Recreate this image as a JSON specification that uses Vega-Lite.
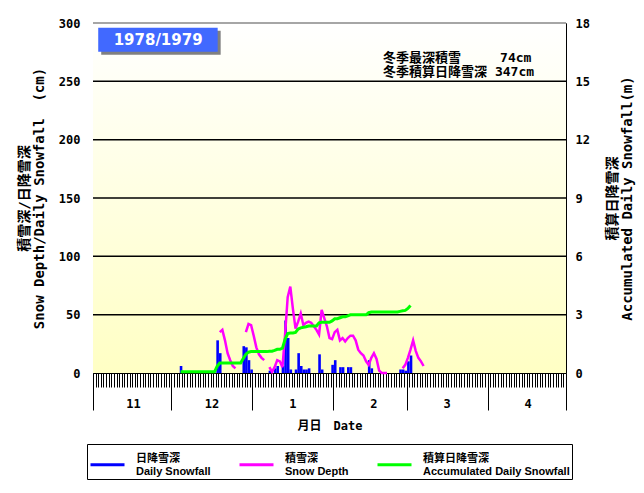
{
  "$schema": "https://vega.github.io/schema/vega-lite/v6.json",
  "width": 473,
  "height": 350,
  "autosize": {"type": "none"},
  "padding": {"left": 93, "top": 23, "right": 78, "bottom": 120},
  "background": "white",
  "config": {
    "view": {"stroke": "#888888", "strokeWidth": 1},
    "axis": {
      "zindex": 1,
      "labelColor": "black",
      "titleColor": "black",
      "domainColor": "black",
      "tickColor": "black",
      "labelFont": "DejaVu Sans Mono",
      "labelFontSize": 12,
      "labelFontWeight": "bold",
      "titleFont": "DejaVu Sans Mono, Noto Sans CJK JP",
      "titleFontSize": 14,
      "titleFontWeight": "bold"
    }
  },
  "datasets": {
    "gridlines": [
      {"cm": 50}, {"cm": 100}, {"cm": 150}, {"cm": 200}, {"cm": 250}
    ],
    "snowfall": [
      {"date": "1978-12-04", "cm": 6},
      {"date": "1978-12-18", "cm": 28},
      {"date": "1978-12-19", "cm": 17},
      {"date": "1978-12-28", "cm": 23},
      {"date": "1978-12-29", "cm": 22},
      {"date": "1978-12-30", "cm": 11},
      {"date": "1978-12-31", "cm": 3},
      {"date": "1979-01-07", "cm": 2},
      {"date": "1979-01-09", "cm": 4},
      {"date": "1979-01-10", "cm": 6},
      {"date": "1979-01-12", "cm": 6},
      {"date": "1979-01-13", "cm": 45},
      {"date": "1979-01-14", "cm": 30},
      {"date": "1979-01-15", "cm": 3},
      {"date": "1979-01-17", "cm": 3},
      {"date": "1979-01-18", "cm": 17},
      {"date": "1979-01-19", "cm": 6},
      {"date": "1979-01-20", "cm": 3},
      {"date": "1979-01-21", "cm": 3},
      {"date": "1979-01-22", "cm": 4},
      {"date": "1979-01-26", "cm": 16},
      {"date": "1979-01-27", "cm": 3},
      {"date": "1979-01-31", "cm": 7},
      {"date": "1979-02-01", "cm": 11},
      {"date": "1979-02-03", "cm": 5},
      {"date": "1979-02-04", "cm": 5},
      {"date": "1979-02-06", "cm": 5},
      {"date": "1979-02-07", "cm": 5},
      {"date": "1979-02-14", "cm": 11},
      {"date": "1979-02-15", "cm": 4},
      {"date": "1979-02-26", "cm": 3},
      {"date": "1979-02-27", "cm": 3},
      {"date": "1979-02-28", "cm": 2},
      {"date": "1979-03-01", "cm": 10},
      {"date": "1979-03-02", "cm": 15}
    ],
    "depth": [
      {"date": "1978-12-19", "cm": 35, "seg": "a"},
      {"date": "1978-12-20", "cm": 37, "seg": "a"},
      {"date": "1978-12-21", "cm": 28, "seg": "a"},
      {"date": "1978-12-22", "cm": 17, "seg": "a"},
      {"date": "1978-12-23", "cm": 11, "seg": "a"},
      {"date": "1978-12-24", "cm": 6, "seg": "a"},
      {"date": "1978-12-25", "cm": 4, "seg": "a"},
      {"date": "1978-12-29", "cm": 35, "seg": "b"},
      {"date": "1978-12-30", "cm": 42, "seg": "b"},
      {"date": "1978-12-31", "cm": 41, "seg": "b"},
      {"date": "1979-01-01", "cm": 32, "seg": "b"},
      {"date": "1979-01-02", "cm": 22, "seg": "b"},
      {"date": "1979-01-03", "cm": 16, "seg": "b"},
      {"date": "1979-01-04", "cm": 13, "seg": "b"},
      {"date": "1979-01-05", "cm": 11, "seg": "b"},
      {"date": "1979-01-07", "cm": 5, "seg": "c"},
      {"date": "1979-01-08", "cm": 1, "seg": "c"},
      {"date": "1979-01-09", "cm": 5, "seg": "c"},
      {"date": "1979-01-10", "cm": 11, "seg": "c"},
      {"date": "1979-01-11", "cm": 10, "seg": "c"},
      {"date": "1979-01-12", "cm": 5, "seg": "c"},
      {"date": "1979-01-13", "cm": 33, "seg": "c"},
      {"date": "1979-01-14", "cm": 65, "seg": "c"},
      {"date": "1979-01-15", "cm": 74, "seg": "c"},
      {"date": "1979-01-16", "cm": 55, "seg": "c"},
      {"date": "1979-01-17", "cm": 38, "seg": "c"},
      {"date": "1979-01-18", "cm": 44, "seg": "c"},
      {"date": "1979-01-19", "cm": 51, "seg": "c"},
      {"date": "1979-01-20", "cm": 41, "seg": "c"},
      {"date": "1979-01-21", "cm": 43, "seg": "c"},
      {"date": "1979-01-22", "cm": 44, "seg": "c"},
      {"date": "1979-01-23", "cm": 43, "seg": "c"},
      {"date": "1979-01-24", "cm": 40, "seg": "c"},
      {"date": "1979-01-25", "cm": 37, "seg": "c"},
      {"date": "1979-01-26", "cm": 33, "seg": "c"},
      {"date": "1979-01-27", "cm": 54, "seg": "c"},
      {"date": "1979-01-28", "cm": 47, "seg": "c"},
      {"date": "1979-01-29", "cm": 40, "seg": "c"},
      {"date": "1979-01-30", "cm": 30, "seg": "c"},
      {"date": "1979-01-31", "cm": 29, "seg": "c"},
      {"date": "1979-02-01", "cm": 35, "seg": "c"},
      {"date": "1979-02-02", "cm": 37, "seg": "c"},
      {"date": "1979-02-03", "cm": 28, "seg": "c"},
      {"date": "1979-02-04", "cm": 30, "seg": "c"},
      {"date": "1979-02-05", "cm": 27, "seg": "c"},
      {"date": "1979-02-06", "cm": 30, "seg": "c"},
      {"date": "1979-02-07", "cm": 32, "seg": "c"},
      {"date": "1979-02-08", "cm": 32, "seg": "c"},
      {"date": "1979-02-09", "cm": 28, "seg": "c"},
      {"date": "1979-02-10", "cm": 20, "seg": "c"},
      {"date": "1979-02-11", "cm": 17, "seg": "c"},
      {"date": "1979-02-12", "cm": 15, "seg": "c"},
      {"date": "1979-02-13", "cm": 10, "seg": "c"},
      {"date": "1979-02-14", "cm": 7, "seg": "c"},
      {"date": "1979-02-15", "cm": 13, "seg": "c"},
      {"date": "1979-02-16", "cm": 17, "seg": "c"},
      {"date": "1979-02-17", "cm": 12, "seg": "c"},
      {"date": "1979-02-18", "cm": 2, "seg": "c"},
      {"date": "1979-02-19", "cm": 0, "seg": "c"},
      {"date": "1979-02-20", "cm": 0, "seg": "c"},
      {"date": "1979-02-21", "cm": 0, "seg": "c"},
      {"date": "1979-02-27", "cm": 4, "seg": "d"},
      {"date": "1979-02-28", "cm": 7, "seg": "d"},
      {"date": "1979-03-01", "cm": 13, "seg": "d"},
      {"date": "1979-03-02", "cm": 20, "seg": "d"},
      {"date": "1979-03-03", "cm": 28, "seg": "d"},
      {"date": "1979-03-04", "cm": 19, "seg": "d"},
      {"date": "1979-03-05", "cm": 13, "seg": "d"},
      {"date": "1979-03-06", "cm": 10, "seg": "d"},
      {"date": "1979-03-07", "cm": 6, "seg": "d"}
    ],
    "accum": [
      {"date": "1978-12-04", "m": 0.06},
      {"date": "1978-12-17", "m": 0.06},
      {"date": "1978-12-18", "m": 0.34},
      {"date": "1978-12-19", "m": 0.51},
      {"date": "1978-12-27", "m": 0.51},
      {"date": "1978-12-28", "m": 0.74},
      {"date": "1978-12-29", "m": 0.96},
      {"date": "1978-12-30", "m": 1.07},
      {"date": "1978-12-31", "m": 1.10},
      {"date": "1979-01-06", "m": 1.10},
      {"date": "1979-01-07", "m": 1.12},
      {"date": "1979-01-08", "m": 1.12},
      {"date": "1979-01-09", "m": 1.16},
      {"date": "1979-01-10", "m": 1.22},
      {"date": "1979-01-11", "m": 1.22},
      {"date": "1979-01-12", "m": 1.28},
      {"date": "1979-01-13", "m": 1.73},
      {"date": "1979-01-14", "m": 2.03},
      {"date": "1979-01-15", "m": 2.06},
      {"date": "1979-01-16", "m": 2.06},
      {"date": "1979-01-17", "m": 2.09},
      {"date": "1979-01-18", "m": 2.26},
      {"date": "1979-01-19", "m": 2.32},
      {"date": "1979-01-20", "m": 2.35},
      {"date": "1979-01-21", "m": 2.38},
      {"date": "1979-01-22", "m": 2.42},
      {"date": "1979-01-25", "m": 2.42},
      {"date": "1979-01-26", "m": 2.58},
      {"date": "1979-01-27", "m": 2.61},
      {"date": "1979-01-30", "m": 2.61},
      {"date": "1979-01-31", "m": 2.68},
      {"date": "1979-02-01", "m": 2.79},
      {"date": "1979-02-02", "m": 2.79},
      {"date": "1979-02-03", "m": 2.84},
      {"date": "1979-02-04", "m": 2.89},
      {"date": "1979-02-05", "m": 2.89},
      {"date": "1979-02-06", "m": 2.94},
      {"date": "1979-02-07", "m": 2.99},
      {"date": "1979-02-13", "m": 2.99},
      {"date": "1979-02-14", "m": 3.10},
      {"date": "1979-02-15", "m": 3.14},
      {"date": "1979-02-25", "m": 3.14},
      {"date": "1979-02-26", "m": 3.17},
      {"date": "1979-02-27", "m": 3.20},
      {"date": "1979-02-28", "m": 3.22},
      {"date": "1979-03-01", "m": 3.32},
      {"date": "1979-03-02", "m": 3.47}
    ]
  },
  "layer": [
    {
      "layer": [
        {
          "data": {"values": [{}]},
          "mark": {
            "type": "rect",
            "color": {
              "gradient": "linear",
              "x1": 0, "y1": 0, "x2": 0, "y2": 1,
              "stops": [
                {"offset": 0, "color": "#ffffff"},
                {"offset": 1, "color": "#ffffc4"}
              ]
            }
          },
          "encoding": {
            "x": {"datum": {"year": 1978, "month": 11, "date": 1, "utc": true}, "type": "temporal"},
            "x2": {"datum": {"year": 1979, "month": 5, "date": 1, "utc": true}},
            "y": {"datum": 0, "type": "quantitative"},
            "y2": {"datum": 300}
          }
        },
        {
          "data": {"name": "gridlines"},
          "mark": {"type": "rule", "color": "black", "strokeWidth": 1.5},
          "encoding": {
            "y": {"field": "cm", "type": "quantitative"}
          }
        },
        {
          "data": {"values": [{}]},
          "mark": {"type": "rule", "color": "#888888", "strokeWidth": 1.5},
          "encoding": {
            "y": {"datum": 300, "type": "quantitative"}
          }
        },
        {
          "data": {"values": [{}]},
          "mark": {"type": "rect", "color": "#808080", "xOffset": 3, "x2Offset": 3, "yOffset": 3, "y2Offset": 3},
          "encoding": {
            "x": {"datum": {"year": 1978, "month": 11, "date": 3, "utc": true}, "type": "temporal"},
            "x2": {"datum": {"year": 1978, "month": 12, "date": 18, "hours": 17, "utc": true}},
            "y": {"datum": 296, "type": "quantitative"},
            "y2": {"datum": 275.4}
          }
        },
        {
          "data": {"values": [{}]},
          "mark": {"type": "rect", "color": "#4169ff"},
          "encoding": {
            "x": {"datum": {"year": 1978, "month": 11, "date": 3, "utc": true}, "type": "temporal"},
            "x2": {"datum": {"year": 1978, "month": 12, "date": 18, "hours": 17, "utc": true}},
            "y": {"datum": 296, "type": "quantitative"},
            "y2": {"datum": 275.4}
          }
        },
        {
          "data": {"values": [{}]},
          "mark": {"type": "text", "text": "1978/1979", "font": "DejaVu Sans", "fontSize": 15, "fontWeight": "bold", "color": "white", "align": "center", "baseline": "middle"},
          "encoding": {
            "x": {"datum": {"year": 1978, "month": 11, "date": 25, "hours": 22, "utc": true}, "type": "temporal"},
            "y": {"datum": 285.4, "type": "quantitative"}
          }
        },
        {
          "data": {"values": [{}]},
          "mark": {"type": "text", "text": "冬季最深積雪　　　74cm", "font": "DejaVu Sans Mono, Noto Sans CJK JP", "fontSize": 13, "fontWeight": "bold", "color": "black", "align": "left", "baseline": "middle"},
          "encoding": {
            "x": {"datum": {"year": 1979, "month": 2, "date": 20, "utc": true}, "type": "temporal"},
            "y": {"datum": 269.6, "type": "quantitative"}
          }
        },
        {
          "data": {"values": [{}]},
          "mark": {"type": "text", "text": "冬季積算日降雪深 347cm", "font": "DejaVu Sans Mono, Noto Sans CJK JP", "fontSize": 13, "fontWeight": "bold", "color": "black", "align": "left", "baseline": "middle"},
          "encoding": {
            "x": {"datum": {"year": 1979, "month": 2, "date": 20, "utc": true}, "type": "temporal"},
            "y": {"datum": 257.6, "type": "quantitative"}
          }
        },
        {
          "data": {"name": "snowfall"},
          "mark": {"type": "bar", "color": "#0000ff", "binSpacing": 0},
          "encoding": {
            "x": {
              "field": "date",
              "type": "temporal",
              "timeUnit": "utcyearmonthdate",
              "scale": {
                "type": "utc",
                "domain": [
                  {"year": 1978, "month": 11, "date": 1, "utc": true},
                  {"year": 1979, "month": 5, "date": 1, "utc": true}
                ]
              },
              "axis": {
                "orient": "bottom",
                "tickCount": {"interval": "day", "step": 1},
                "tickSize": {"condition": {"test": "utcdate(datum.value) == 1", "value": 37}, "value": 14},
                "tickWidth": 1,
                "grid": false,
                "labelExpr": "utcdate(datum.value) == 1 && utcmonth(datum.value) != 4 ? utcFormat(datum.value, '%-m') : ''",
                "labelOffset": 40,
                "labelPadding": -12,
                "labelFlush": false,
                "labelOverlap": false,
                "labelBound": false,
                "title": "月日　Date",
                "titleFontSize": 12,
                "titleY": 52,
                "titleBaseline": "middle"
              }
            },
            "y": {
              "field": "cm",
              "type": "quantitative",
              "scale": {"domain": [0, 300], "nice": false},
              "axis": {
                "orient": "left",
                "values": [0, 50, 100, 150, 200, 250, 300],
                "grid": false,
                "ticks": false,
                "tickSize": 0,
                "labelPadding": 13,
                "title": ["\u00a0\u00a0\u00a0積雪深/日降雪深", "Snow Depth/Daily Snowfall\u00a0\u00a0(cm)\u00a0\u00a0\u00a0"],
                "titleAngle": 270,
                "titleX": -69,
                "titleY": 175,
                "titleAlign": "center",
                "titleBaseline": "middle",
                "titleLineHeight": 15
              }
            }
          }
        },
        {
          "data": {"name": "depth"},
          "mark": {"type": "line", "strokeWidth": 2.5},
          "encoding": {
            "x": {"field": "date", "type": "temporal", "timeUnit": "utcyearmonthdate", "bandPosition": 0.5},
            "y": {"field": "cm", "type": "quantitative"},
            "detail": {"field": "seg"},
            "color": {
              "datum": "depth",
              "scale": {"domain": ["snow", "depth", "accum"], "range": ["#0000ff", "#ff00ff", "#00ff00"]},
              "legend": {
                "orient": "none",
                "legendX": -6,
                "legendY": 421,
                "direction": "horizontal",
                "title": null,
                "symbolType": "stroke",
                "symbolSize": 1156,
                "symbolStrokeWidth": 3,
                "labelExpr": "datum.value == 'snow' ? ['日降雪深', 'Daily Snowfall'] : datum.value == 'depth' ? ['積雪深', 'Snow Depth'] : ['積算日降雪深', 'Accumulated Daily Snowfall']",
                "labelFont": "Liberation Sans, Noto Sans CJK JP",
                "labelFontSize": 11,
                "labelFontWeight": "bold",
                "labelColor": "black",
                "labelBaseline": "line-bottom",
                "labelOffset": 10,
                "labelLimit": 0,
                "columnPadding": 22,
                "padding": 2,
                "strokeColor": "black",
                "fillColor": "white"
              }
            }
          }
        }
      ]
    },
    {
      "data": {"name": "accum"},
      "mark": {"type": "line", "strokeWidth": 3},
      "encoding": {
        "x": {"field": "date", "type": "temporal", "timeUnit": "utcyearmonthdate", "bandPosition": 0.5},
        "y": {
          "field": "m",
          "type": "quantitative",
          "scale": {"domain": [0, 18], "nice": false},
          "axis": {
            "orient": "right",
            "values": [0, 3, 6, 9, 12, 15, 18],
            "grid": false,
            "ticks": false,
            "tickSize": 0,
            "labelPadding": 9,
            "labelAlign": "left",
            "title": ["\u00a0\u00a0\u00a0積算日降雪深", "Accumulated Daily Snowfall(m)\u00a0\u00a0\u00a0\u00a0\u00a0\u00a0"],
            "titleAngle": 270,
            "titleX": 46,
            "titleY": 175,
            "titleAlign": "center",
            "titleBaseline": "middle",
            "titleLineHeight": 15
          }
        },
        "color": {"datum": "accum"}
      }
    }
  ],
  "resolve": {"scale": {"y": "independent"}}
}
